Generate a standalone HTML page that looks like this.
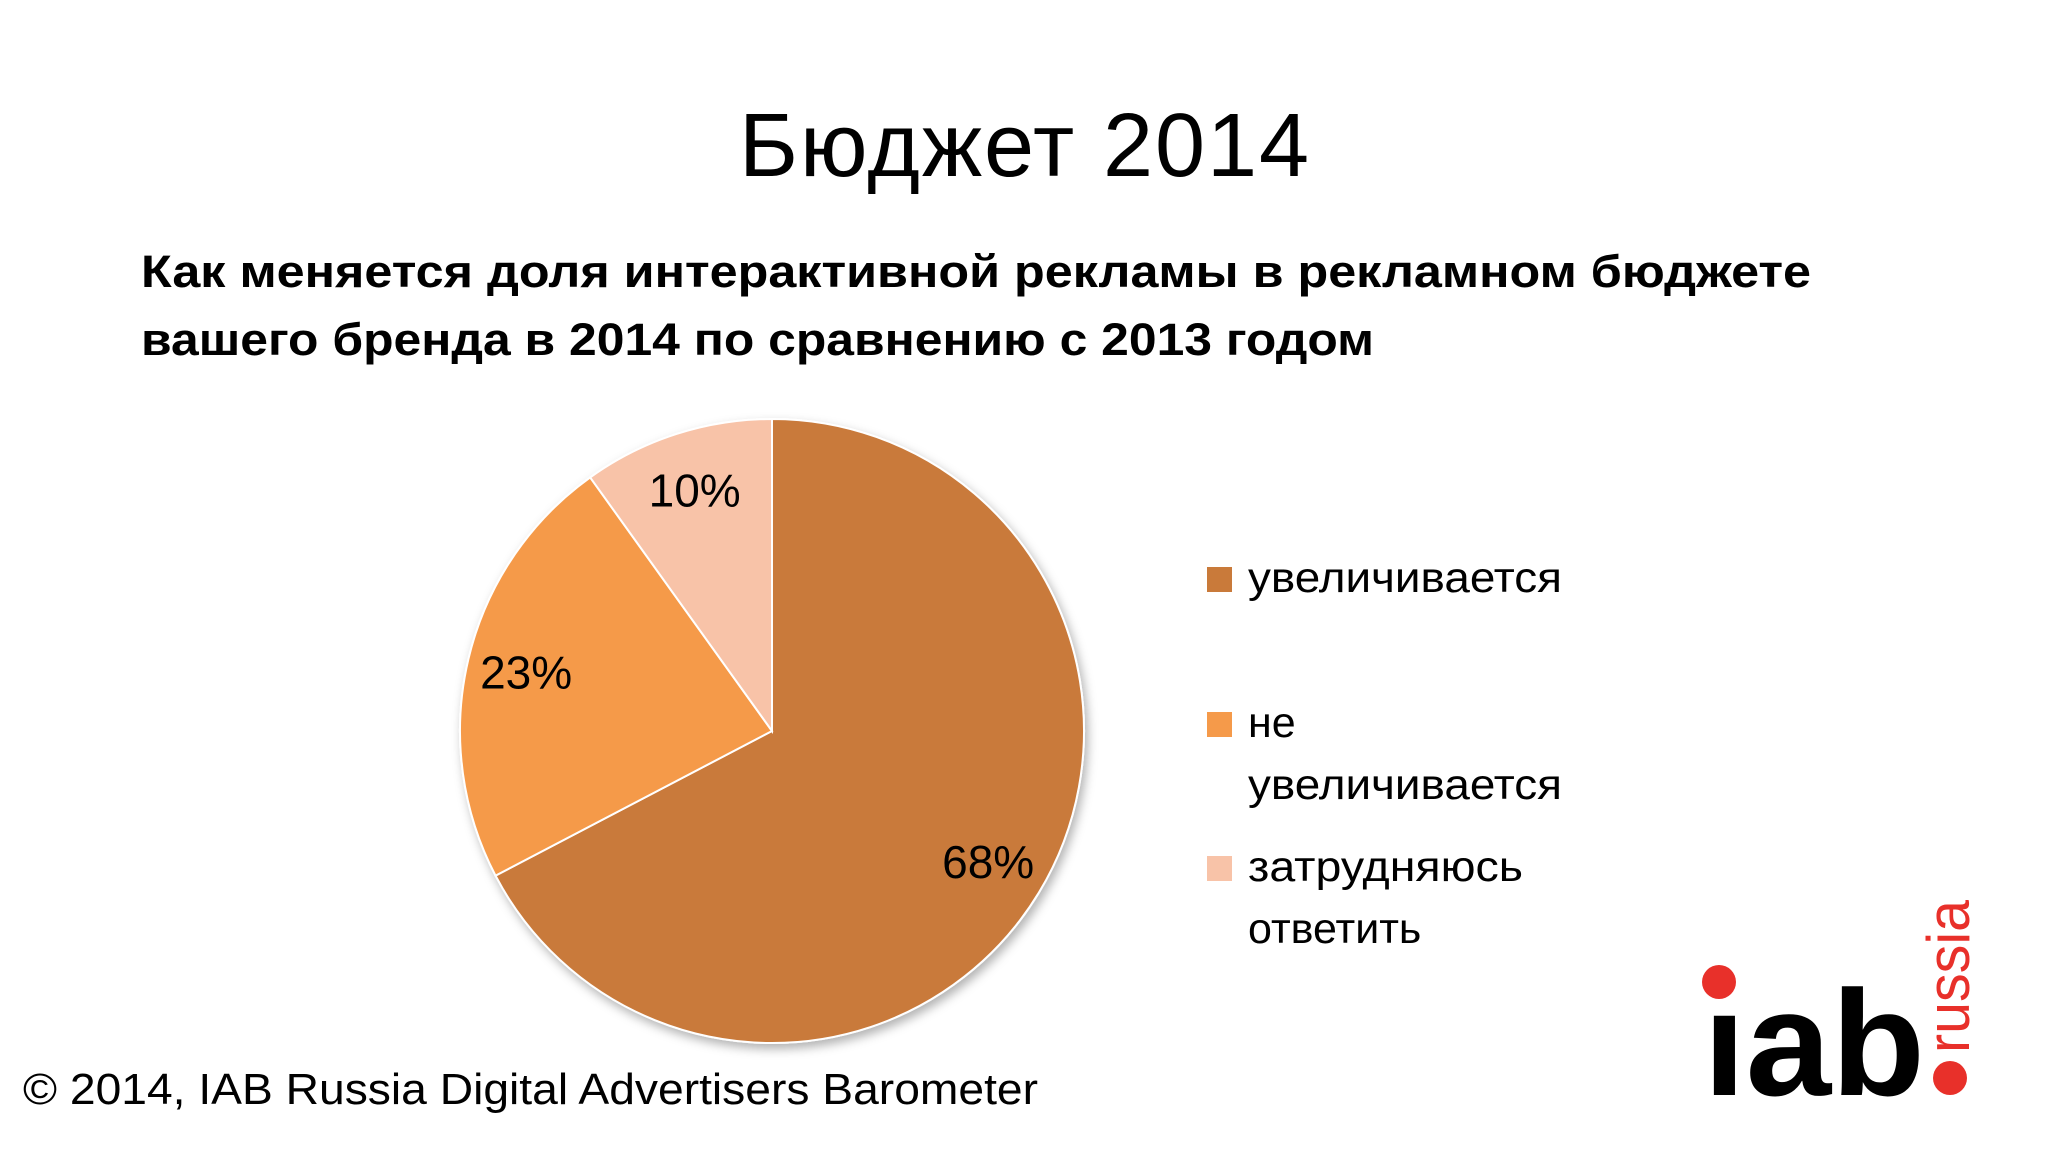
<!DOCTYPE html>
<html><head><meta charset="utf-8"><style>
html,body{margin:0;padding:0;background:#fff;}
svg{display:block;font-family:"Liberation Sans","DejaVu Sans",sans-serif;}
</style></head><body>
<svg id="chart" width="2048" height="1152" viewBox="0 0 2048 1152">
<defs><filter id="sh" x="-10%" y="-10%" width="130%" height="130%"><feDropShadow dx="3" dy="5" stdDeviation="5" flood-color="#000" flood-opacity="0.3"/></filter></defs>
<text x="1024" y="176" text-anchor="middle" font-size="90" fill="#000" textLength="570">Бюджет 2014</text>
<text x="141" y="287" font-size="45" font-weight="bold" fill="#000" textLength="1670" lengthAdjust="spacingAndGlyphs">Как меняется доля интерактивной рекламы в рекламном бюджете</text>
<text x="141" y="355" font-size="45" font-weight="bold" fill="#000" textLength="1233" lengthAdjust="spacingAndGlyphs">вашего бренда в 2014 по сравнению с 2013 годом</text>
<g id="pie" filter="url(#sh)"></g>
<g id="labels"></g>
<g id="legend"></g>
<text x="23" y="1104" font-size="44" fill="#000" textLength="1015" lengthAdjust="spacingAndGlyphs">© 2014, IAB Russia Digital Advertisers Barometer</text>
<g>
<text x="1703" y="1095" font-size="150" font-weight="bold" fill="#000" textLength="222" lengthAdjust="spacingAndGlyphs">ıab</text>
<circle cx="1719" cy="982" r="17" fill="#e8302a"/>
<circle cx="1950" cy="1078" r="17" fill="#e8302a"/>
<text transform="translate(1969,1053) rotate(-90)" font-size="60" fill="#e8302a" textLength="153" lengthAdjust="spacingAndGlyphs">russia</text>
</g>
</svg>
<script>
const categories = ["увеличивается", "не увеличивается", "затрудняюсь ответить"];
const values = [68, 23, 10];
const valueLabels = ["68%", "23%", "10%"];
const colors = ["#c97a3a", "#f59a4a", "#f8c3a8"];
const NS = "http://www.w3.org/2000/svg";
const cx = 772, cy = 731, r = 312;
const total = values.reduce((a, b) => a + b, 0);
function angleOf(v) { return v / total * 2 * Math.PI; }
function pt(a, rr) { return [cx + rr * Math.sin(a), cy - rr * Math.cos(a)]; }
const pie = document.getElementById('pie');
const labels = document.getElementById('labels');
let start = 0;
values.forEach((v, i) => {
  const end = start + angleOf(v);
  const [x1, y1] = pt(start, r), [x2, y2] = pt(end, r);
  const large = end - start > Math.PI ? 1 : 0;
  const p = document.createElementNS(NS, 'path');
  p.setAttribute('d', `M${cx},${cy} L${x1},${y1} A${r},${r} 0 ${large} 1 ${x2},${y2} Z`);
  p.setAttribute('fill', colors[i]);
  p.setAttribute('stroke', '#fff');
  p.setAttribute('stroke-width', '2');
  
  
  pie.appendChild(p);
  const mid = (start + end) / 2;
  const [lx, ly] = pt(mid, r * 0.81);
  const t = document.createElementNS(NS, 'text');
  t.setAttribute('x', lx);
  t.setAttribute('y', ly + 16);
  t.setAttribute('text-anchor', 'middle');
  t.setAttribute('font-size', '46');
  t.textContent = valueLabels[i];
  
  
  labels.appendChild(t);
  start = end;
});
const legend = document.getElementById('legend');
const legendLines = [["увеличивается"], ["не", "увеличивается"], ["затрудняюсь", "ответить"]];
const legendY = [567, 712, 856];
legendLines.forEach((lines, i) => {
  const g = document.createElementNS(NS, 'g');
  
  
  const s = document.createElementNS(NS, 'rect');
  s.setAttribute('x', 1207); s.setAttribute('y', legendY[i]);
  s.setAttribute('width', 25); s.setAttribute('height', 25);
  s.setAttribute('fill', colors[i]);
  
  
  g.appendChild(s);
  lines.forEach((ln, j) => {
    const t = document.createElementNS(NS, 'text');
    t.setAttribute('x', 1248);
    t.setAttribute('y', legendY[i] + 25 + j * 62);
    t.setAttribute('font-size', '43');
    if (ln === "увеличивается") { t.setAttribute('textLength', '314'); t.setAttribute('lengthAdjust', 'spacingAndGlyphs'); }
    if (ln === "затрудняюсь") { t.setAttribute('textLength', '275'); t.setAttribute('lengthAdjust', 'spacingAndGlyphs'); }
    t.textContent = ln;
    
    
    g.appendChild(t);
  });
  legend.appendChild(g);
});
</script>
</body></html>
